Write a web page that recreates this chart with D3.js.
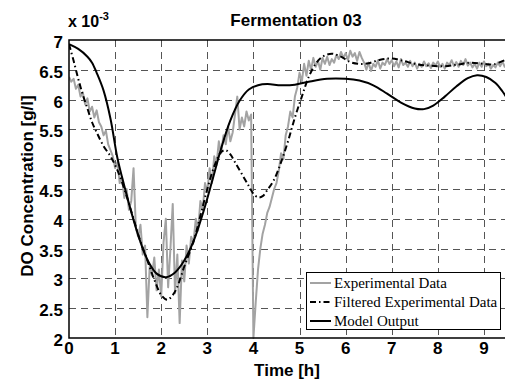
<!DOCTYPE html>
<html>
<head>
<meta charset="utf-8">
<script src="https://cdn.jsdelivr.net/npm/d3@7"></script>
<style>
  body { margin: 0; background: #fff; }
  text { font-family: "Liberation Sans", Arial, sans-serif; }
  text.serif { font-family: "Liberation Serif", "Times New Roman", serif; }
</style>
</head>
<body>
<div id="chart"></div>
<script>
// experimental DO samples, every 0.05 h from 0 to 9.5 h  (x 10^-3 g/l)
var expStep = 0.05;
var expValues = [
  6.38, 6.30, 6.35, 6.18, 6.25, 6.05, 6.12, 5.92, 6.02, 5.80,
  5.88, 5.70, 5.82, 5.62, 5.55, 5.40, 5.48, 5.25, 5.15, 5.05,
  4.85, 4.95, 4.60, 4.70, 4.35, 4.50, 4.15, 4.30, 4.85, 3.85,
  3.70, 3.90, 3.40, 3.55, 2.35, 3.20, 3.05, 3.35, 2.80, 3.15,
  2.70, 3.60, 4.00, 2.85, 3.50, 4.25, 2.75, 3.40, 2.25, 3.30,
  2.95, 3.55, 3.25, 3.70, 3.60, 4.00, 3.80, 4.30, 4.15, 4.60,
  4.45, 4.85, 4.60, 5.05, 4.90, 5.30, 5.10, 5.40, 5.25, 5.55,
  5.30, 5.45, 5.75, 6.05, 5.50, 5.70, 5.55, 5.80, 5.65, 5.75,
  2.00, 2.60, 3.15, 3.50, 3.75, 3.90, 4.10, 4.20, 4.35, 4.50,
  4.60, 4.80, 5.10, 5.00, 5.40, 5.55, 5.80, 5.70, 6.05, 6.20,
  6.45, 6.30, 6.60, 6.40, 6.65, 6.50, 6.70, 6.55, 6.65, 6.50,
  6.70, 6.60, 6.72, 6.58, 6.68, 6.62, 6.75, 6.68, 6.80, 6.70,
  6.78, 6.66, 6.82, 6.72, 6.78, 6.65, 6.80, 6.70, 6.62, 6.50,
  6.62, 6.48, 6.60, 6.55, 6.66, 6.52, 6.62, 6.58, 6.68, 6.60,
  6.66, 6.56, 6.64, 6.54, 6.68, 6.58, 6.62, 6.55, 6.65, 6.56,
  6.62, 6.52, 6.60, 6.55, 6.64, 6.56, 6.61, 6.53, 6.62, 6.57,
  6.64, 6.55, 6.60, 6.52, 6.62, 6.58, 6.66, 6.56, 6.63, 6.55,
  6.65, 6.58, 6.68, 6.57, 6.62, 6.54, 6.60, 6.52, 6.62, 6.55,
  6.64, 6.56, 6.60, 6.52, 6.58, 6.54, 6.62, 6.56, 6.64, 6.55,
  6.60
];

var filtTime = [0, 0.1, 0.2, 0.3, 0.4, 0.5, 0.6, 0.75, 0.9, 1.0, 1.1, 1.25, 1.4, 1.55, 1.7, 1.85, 2.0, 2.13, 2.25, 2.35,
  2.5, 2.7, 2.85, 3.0, 3.15, 3.3, 3.4, 3.5, 3.6, 3.75, 3.9, 4.0, 4.1, 4.2, 4.3, 4.45, 4.6, 4.75, 4.9, 5.05,
  5.2, 5.35, 5.5, 5.7, 5.9, 6.1, 6.3, 6.5, 6.75, 7.0, 7.25, 7.5, 7.8, 8.15, 8.45, 8.7, 9.0, 9.2, 9.5];
var filtValues = [6.93, 6.65, 6.35, 6.08, 5.85, 5.62, 5.45, 5.22, 5.05, 4.90, 4.72, 4.38, 4.00, 3.62, 3.30, 2.98, 2.72, 2.64, 2.72, 2.86,
  3.20, 3.62, 4.05, 4.50, 4.88, 5.12, 5.15, 5.08, 4.95, 4.75, 4.55, 4.42, 4.36, 4.38, 4.48, 4.66, 4.95, 5.30, 5.70, 6.05,
  6.38, 6.60, 6.72, 6.77, 6.72, 6.63, 6.60, 6.61, 6.67, 6.69, 6.65, 6.60, 6.57, 6.56, 6.59, 6.62, 6.60, 6.59, 6.68];

var modelTime = [0, 0.2, 0.4, 0.5, 0.6, 0.75, 0.9, 1.05, 1.2, 1.4, 1.6, 1.75, 1.9, 2.1, 2.3, 2.5, 2.7, 2.9, 3.1, 3.3,
  3.5, 3.7, 3.9, 4.1, 4.3, 4.6, 4.9, 5.2, 5.6, 6.0, 6.3, 6.6, 6.9, 7.2, 7.5, 7.7, 7.9, 8.15, 8.4, 8.65,
  8.85, 9.05, 9.25, 9.4, 9.5];
var modelValues = [6.93, 6.85, 6.72, 6.62, 6.45, 6.15, 5.68, 5.02, 4.55, 3.98, 3.50, 3.24, 3.08, 3.02, 3.10, 3.30, 3.62, 4.08, 4.62, 5.18,
  5.65, 5.98, 6.17, 6.24, 6.26, 6.24, 6.25, 6.30, 6.35, 6.35, 6.32, 6.24, 6.10, 5.95, 5.85, 5.84, 5.90, 6.05, 6.22, 6.36,
  6.41, 6.38, 6.28, 6.14, 6.02];

var xTicks = [0, 1, 2, 3, 4, 5, 6, 7, 8, 9];
var yTicks = [2, 2.5, 3, 3.5, 4, 4.5, 5, 5.5, 6, 6.5, 7];
var legendLabels = ["Experimental Data", "Filtered Experimental Data", "Model Output"];

var margin = {top: 40, left: 69},
    totalWidth = 505,
    totalHeight = 385,
    plotRight = 507,
    plotBottom = 338;

var svg = d3.select("#chart").append("svg")
  .attr("width", totalWidth)
  .attr("height", totalHeight);

var x = d3.scaleLinear().domain([0, 9.5]).range([margin.left, plotRight]);
var y = d3.scaleLinear().domain([2, 7]).range([plotBottom, margin.top]);

svg.append("clipPath").attr("id", "plotclip")
  .append("rect")
  .attr("x", margin.left).attr("y", margin.top - 1)
  .attr("width", plotRight - margin.left).attr("height", plotBottom - margin.top + 2);

// dashed grid
var grid = svg.append("g").attr("stroke", "#555").attr("stroke-width", 1).attr("stroke-dasharray", "7,5");
grid.selectAll("line.gx").data(xTicks.slice(1)).enter().append("line")
  .attr("x1", function(d) { return Math.round(x(d)) + 0.5; })
  .attr("x2", function(d) { return Math.round(x(d)) + 0.5; })
  .attr("y1", margin.top).attr("y2", plotBottom);
grid.selectAll("line.gy").data(yTicks.slice(1, -1)).enter().append("line")
  .attr("y1", function(d) { return Math.round(y(d)) + 0.5; })
  .attr("y2", function(d) { return Math.round(y(d)) + 0.5; })
  .attr("x1", margin.left).attr("x2", plotRight);

var lines = svg.append("g").attr("clip-path", "url(#plotclip)").attr("fill", "none");

var expData = expValues.map(function(v, i) { return [i * expStep, v]; });
var filtData = filtTime.map(function(t, i) { return [t, filtValues[i]]; });
var modelData = modelTime.map(function(t, i) { return [t, modelValues[i]]; });

var rawLine = d3.line().x(function(d) { return x(d[0]); }).y(function(d) { return y(d[1]); });
var smoothLine = d3.line().curve(d3.curveCatmullRom.alpha(0.5))
  .x(function(d) { return x(d[0]); }).y(function(d) { return y(d[1]); });

lines.append("path").datum(expData).attr("d", rawLine)
  .attr("stroke", "#a3a3a3").attr("stroke-width", 2).attr("stroke-linejoin", "round");
lines.append("path").datum(filtData).attr("d", smoothLine)
  .attr("stroke", "#000").attr("stroke-width", 2).attr("stroke-dasharray", "6,3,1.5,3");
lines.append("path").datum(modelData).attr("d", smoothLine)
  .attr("stroke", "#000").attr("stroke-width", 2);

// axes box (left, bottom, top)
svg.append("path")
  .attr("d", "M" + plotRight + "," + margin.top + "H" + margin.left + "V" + plotBottom + "H" + plotRight)
  .attr("fill", "none").attr("stroke", "#000").attr("stroke-width", 1.5);

// tick labels
svg.append("g").selectAll("text").data(xTicks).enter().append("text")
  .attr("x", function(d) { return x(d); })
  .attr("y", 354)
  .attr("text-anchor", "middle")
  .attr("font-size", 17).attr("font-weight", "bold")
  .text(function(d) { return d; });
svg.append("g").selectAll("text").data(yTicks).enter().append("text")
  .attr("x", 63)
  .attr("y", function(d) { return y(d) + 8; })
  .attr("text-anchor", "end")
  .attr("font-size", 17).attr("font-weight", "bold")
  .text(function(d) { return d; });

// titles
svg.append("text").attr("x", 296).attr("y", 26)
  .attr("text-anchor", "middle").attr("font-size", 17).attr("font-weight", "bold")
  .text("Fermentation 03");
var exp = svg.append("text").attr("x", 68).attr("y", 27)
  .attr("font-size", 16).attr("font-weight", "bold");
exp.append("tspan").text("x 10");
exp.append("tspan").attr("dy", -7).attr("font-size", 11).text("-3");

svg.append("text").attr("x", 287).attr("y", 376)
  .attr("text-anchor", "middle").attr("font-size", 17).attr("font-weight", "bold")
  .text("Time [h]");
svg.append("text")
  .attr("transform", "translate(33," + ((margin.top + plotBottom) / 2 - 3) + ") rotate(-90)")
  .attr("text-anchor", "middle").attr("font-size", 17).attr("font-weight", "bold")
  .text("DO Concentration [g/l]");

// legend
var legend = svg.append("g");
legend.append("rect").attr("x", 306.5).attr("y", 272.5).attr("width", 194).attr("height", 57)
  .attr("fill", "#fff").attr("stroke", "#000").attr("stroke-width", 1);
var legendStyles = [
  {stroke: "#a3a3a3", dash: null},
  {stroke: "#000", dash: "6,3,1.5,3"},
  {stroke: "#000", dash: null}
];
legendLabels.forEach(function(label, i) {
  var ly = 283 + i * 19;
  legend.append("line").attr("x1", 310).attr("x2", 331).attr("y1", ly).attr("y2", ly)
    .attr("stroke", legendStyles[i].stroke).attr("stroke-width", 2)
    .attr("stroke-dasharray", legendStyles[i].dash);
  legend.append("text").attr("class", "serif").attr("x", 334).attr("y", ly + 5)
    .attr("font-size", 15)
    .text(label);
});
</script>
</body>
</html>
